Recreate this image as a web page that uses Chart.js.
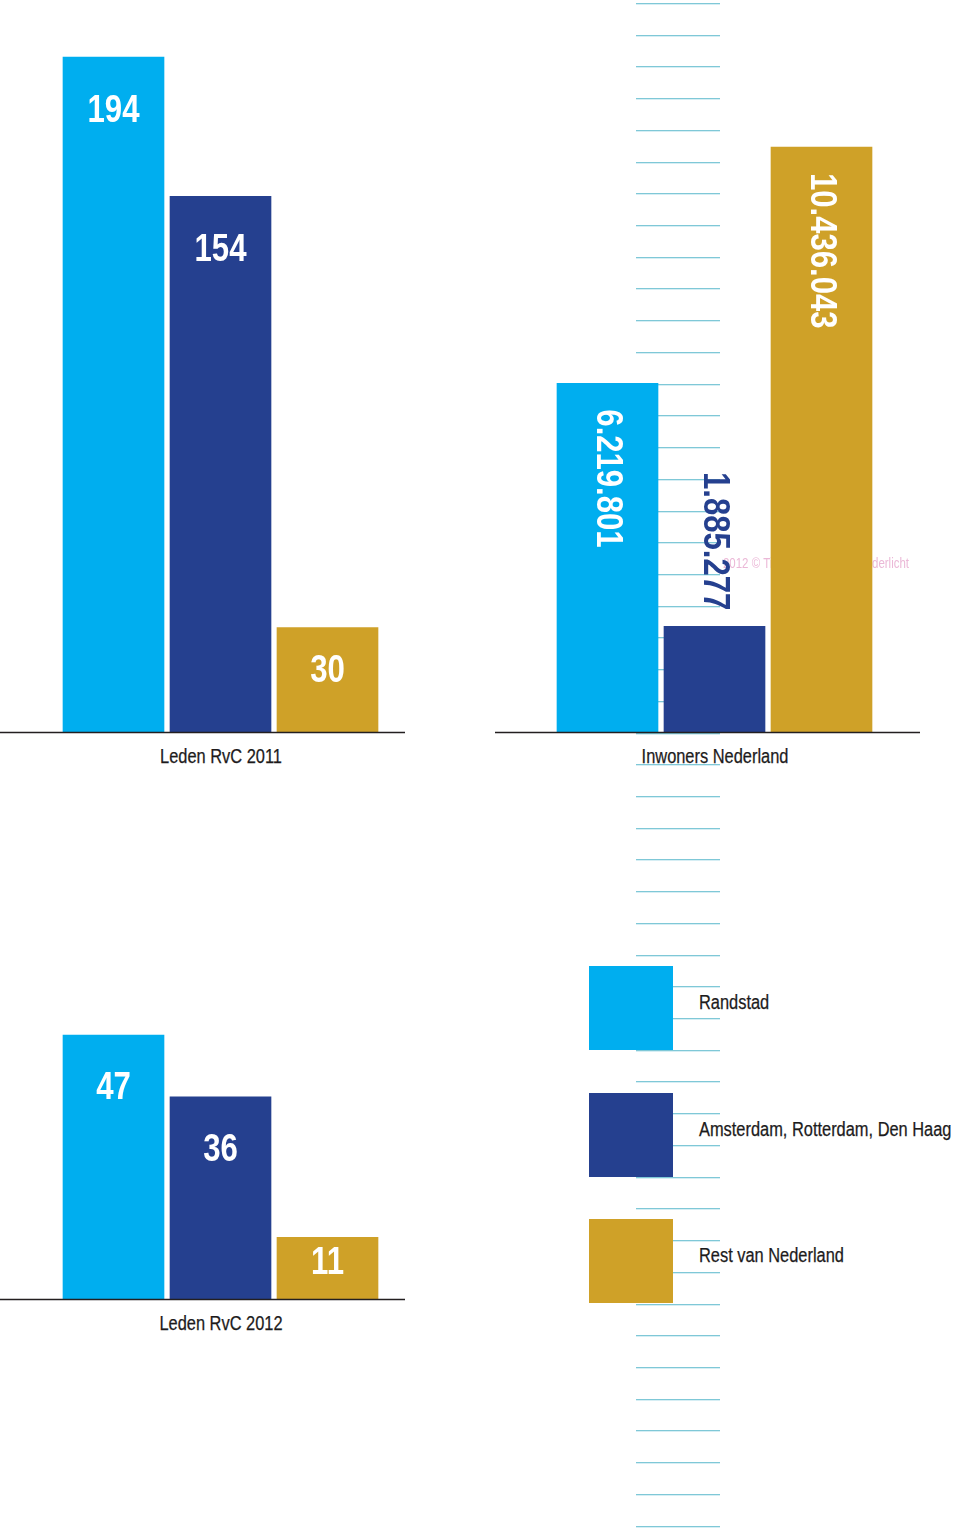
<!DOCTYPE html>
<html lang="nl">
<head>
<meta charset="utf-8">
<title>Leden RvC en inwoners Nederland</title>
<script src="https://cdn.jsdelivr.net/npm/chart.js@4.4.1/dist/chart.umd.min.js"></script>
<style>
  html, body { margin: 0; padding: 0; background: #fff; }
  body {
    width: 960px; height: 1532px; position: relative; overflow: hidden;
    font-family: 'Liberation Sans', Arial, sans-serif;
    color: #1d1b1c;
  }
  canvas { position: absolute; }
  .rule { position: absolute; left: 636px; width: 84px; height: 1px; background: #7fc8d7; border-bottom: 1px solid #d6eef4; }
  .title { position: absolute; width: 300px; font-size: 20px; line-height: 24px; text-align: center; white-space: nowrap; transform: scaleX(0.82); -webkit-text-stroke: 0.25px #1d1b1c; }
  .key { position: absolute; left: 589px; width: 84px; height: 84px; }
  .key-label { position: absolute; left: 699px; font-size: 20px; line-height: 24px; white-space: nowrap; transform: scaleX(0.82); transform-origin: 0 0; -webkit-text-stroke: 0.25px #1d1b1c; }
</style>
</head>
<body>
<div id="rules"></div>
<canvas id="rvc2011" width="405" height="734" style="left:0;top:0"></canvas>
<canvas id="inwoners" width="425" height="734" style="left:495px;top:0"></canvas>
<canvas id="rvc2012" width="405" height="521" style="left:0;top:780px"></canvas>
<div class="title" style="left:71px;top:744px">Leden RvC 2011</div>
<div class="title" style="left:565px;top:744px">Inwoners Nederland</div>
<div class="title" style="left:71px;top:1311px">Leden RvC 2012</div>
<div id="legend"></div>
<script>
// regio's (zelfde volgorde in elke grafiek)
const regions = ['Randstad', 'Amsterdam, Rotterdam, Den Haag', 'Rest van Nederland'];
const regionColors = ['#00aeef', '#25408f', '#cfa128'];

// waarden
const leden2011 = [194, 154, 30];
const inwoners = [6219801, 1885277, 10436043];
const leden2012 = [47, 36, 11];

const fontFamily = "'Liberation Sans', Arial, sans-serif";
const narrow = 0.82;   // smalle letter nabootsen

function formatNL(v) {
    return String(v).replace(/\B(?=(\d{3})+(?!\d))/g, '.');
}

// dunne lijntjes op de achtergrond
const rules = document.getElementById('rules');
for (let i = 0; i < 49; i++) {
    const r = document.createElement('div');
    r.className = 'rule';
    r.style.top = (3 + i * 31.72) + 'px';
    rules.appendChild(r);
}

// legenda
const legend = document.getElementById('legend');
regions.forEach((name, i) => {
    const top = 966 + i * 126.5;
    const box = document.createElement('div');
    box.className = 'key';
    box.style.top = top + 'px';
    box.style.background = regionColors[i];
    legend.appendChild(box);
    const label = document.createElement('div');
    label.className = 'key-label';
    label.style.top = (top + 24) + 'px';
    label.textContent = name;
    legend.appendChild(label);
});

// basislijn over de hele breedte van het canvas
const baseLine = {
    id: 'baseLine',
    afterDatasetsDraw(chart) {
        const ctx = chart.ctx;
        ctx.save();
        ctx.strokeStyle = '#231f20';
        ctx.lineWidth = 1.5;
        ctx.beginPath();
        ctx.moveTo(0, chart.chartArea.bottom + 0.5);
        ctx.lineTo(chart.width, chart.chartArea.bottom + 0.5);
        ctx.stroke();
        ctx.restore();
    }
};

// getallen in de staven (horizontaal)
const flatLabels = {
    id: 'flatLabels',
    afterDatasetsDraw(chart) {
        const ctx = chart.ctx;
        const values = chart.data.datasets[0].data;
        ctx.save();
        ctx.font = 'bold 38px ' + fontFamily;
        ctx.fillStyle = '#fff';
        ctx.textAlign = 'center';
        ctx.textBaseline = 'middle';
        chart.getDatasetMeta(0).data.forEach((bar, i) => {
            const h = bar.base - bar.y;
            ctx.save();
            ctx.translate(bar.x, bar.y + Math.min(54, h * 0.42));
            ctx.scale(narrow, 1);
            ctx.fillText(formatNL(values[i]), 0, 0);
            ctx.restore();
        });
        ctx.restore();
    }
};

// getallen gedraaid; past het niet in de staaf, dan erboven in de kleur van de staaf
const rotatedLabels = {
    id: 'rotatedLabels',
    beforeDatasetsDraw(chart) {
        // watermerk, valt grotendeels achter de staven
        const ctx = chart.ctx;
        ctx.save();
        ctx.font = '14px ' + fontFamily;
        ctx.fillStyle = '#ebb8d7';
        ctx.textBaseline = 'middle';
        ctx.textAlign = 'right';
        ctx.translate(909 - 495, 564);
        ctx.scale(narrow, 1);
        ctx.fillText('2012 © Tijdschrift voor de Onderlicht', 0, 0);
        ctx.restore();
    },
    afterDatasetsDraw(chart) {
        const ctx = chart.ctx;
        const values = chart.data.datasets[0].data;
        ctx.save();
        ctx.font = 'bold 37px ' + fontFamily;
        ctx.textBaseline = 'middle';
        chart.getDatasetMeta(0).data.forEach((bar, i) => {
            const text = formatNL(values[i]);
            const w = ctx.measureText(text).width * narrow;
            const h = bar.base - bar.y;
            ctx.save();
            if (w + 50 < h) {
                ctx.translate(bar.x, bar.y + 26);
                ctx.rotate(Math.PI / 2);
                ctx.textAlign = 'left';
                ctx.fillStyle = '#fff';
            } else {
                ctx.translate(bar.x, bar.y - 16);
                ctx.rotate(Math.PI / 2);
                ctx.textAlign = 'right';
                ctx.fillStyle = regionColors[i];
            }
            ctx.scale(0.84, 1);
            ctx.fillText(text, 0, 0);
            ctx.restore();
        });
        ctx.restore();
    }
};

function makeBarChart(id, values, yMax, padding, labelPlugin) {
    const ctx = document.getElementById(id).getContext('2d');
    return new Chart(ctx, {
        type: 'bar',
        data: {
            labels: regions,
            datasets: [{
                data: values,
                backgroundColor: regionColors,
                borderWidth: 0,
                barThickness: 101
            }]
        },
        options: {
            responsive: false,
            animation: false,
            events: [],
            layout: { padding: padding },
            scales: {
                x: { display: false },
                y: { display: false, min: 0, max: yMax }
            },
            plugins: {
                legend: { display: false },
                tooltip: { enabled: false }
            }
        },
        plugins: [labelPlugin, baseLine]
    });
}

makeBarChart('rvc2011', leden2011, 210.4, { left: 60, right: 24, top: 0, bottom: 2 }, flatLabels);
makeBarChart('inwoners', inwoners, 13058600, { left: 59, right: 45, top: 0, bottom: 2 }, rotatedLabels);
makeBarChart('rvc2012', leden2012, 92.4, { left: 60, right: 24, top: 0, bottom: 2 }, flatLabels);
</script>
</body>
</html>
